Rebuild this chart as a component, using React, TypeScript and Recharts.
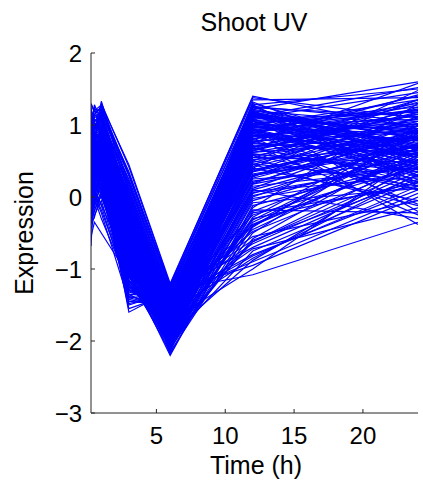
import React from 'react';
import { LineChart, Line, XAxis, YAxis } from 'recharts';

// sampling times (h)
const times = [0.25, 0.5, 1, 3, 6, 12, 24];

const xTicks = [5, 10, 15, 20];
const yTicks = [-3, -2, -1, 0, 1, 2];

// one row per gene, one value per time point
const profiles: number[][] = [
    [1.25, 0.95, 1.30, 0.42, -1.22, 1.40, 0.95],
    [0.85, 1.28, 1.05, 0.25, -1.30, 1.22, 1.60],
    [0.55, 0.72, 1.33, 0.12, -1.38, 1.12, 1.52],
    [1.10, 0.62, 0.92, -0.18, -1.58, 0.92, 1.30],
    [0.32, 0.48, 0.80, -0.52, -1.82, 0.62, 1.02],
    [-0.68, 0.22, 0.60, -0.42, -1.92, 0.38, 0.80],
    [0.92, 1.12, 1.18, -0.08, -1.50, 1.05, 0.30],
    [0.62, 0.30, 0.52, -0.82, -2.02, 0.18, 0.62],
    [0.18, 0.02, 0.30, -1.02, -2.20, -0.12, 0.48],
    [1.02, 0.82, 0.70, -0.62, -1.72, 0.82, -0.10],
    [0.75, 0.95, 1.00, 0.05, -1.45, 1.18, 0.70],
    [0.40, 0.60, 0.85, -0.30, -1.65, 0.70, 1.15],
    [0.95, 0.70, 0.60, -0.95, -1.85, 0.30, 0.90],
    [0.10, 0.35, 0.45, -1.20, -1.95, -0.30, 0.20],
    [0.65, 0.85, 0.95, -0.40, -1.75, 0.55, 1.25],
    [1.15, 1.05, 1.10, -0.25, -1.55, 0.98, 0.55],
    [0.28, 0.15, 0.20, -1.55, -1.35, -0.55, -0.05],
    [0.50, 0.40, 0.35, -1.45, -1.42, -0.80, 0.10],
    [0.70, 0.55, 0.40, -1.60, -1.30, -1.08, -0.35],
    [-0.20, 0.10, 0.25, -1.35, -1.40, -0.65, 0.35],
    [0.85, 0.90, 0.75, -0.70, -2.10, 0.05, 0.75],
    [0.45, 0.65, 0.90, -0.15, -1.60, 0.88, 1.40],
    [1.20, 1.00, 0.85, -0.35, -1.68, 0.72, -0.25],
    [0.05, 0.25, 0.55, -0.88, -1.98, 0.12, 0.95],
    [0.60, 0.80, 1.15, 0.30, -1.28, 1.30, 0.65],
    [0.90, 0.50, 0.65, -0.55, -1.78, 0.45, 1.10],
    [0.35, 0.75, 0.70, -0.75, -1.88, 0.25, 0.40],
    [1.05, 1.15, 1.25, 0.18, -1.35, 1.08, 1.18],
    [0.15, 0.05, 0.40, -1.10, -2.15, -0.40, 0.58],
    [0.78, 0.68, 0.58, -0.48, -1.70, 0.58, 0.85],
    [0.48, 0.88, 0.98, -0.22, -1.62, 0.95, 0.42],
    [0.98, 0.78, 0.88, -0.38, -1.72, 0.68, 1.35],
    [0.22, 0.42, 0.62, -0.68, -1.90, 0.32, 0.72],
    [0.68, 0.58, 0.78, -0.58, -1.80, 0.50, 0.15],
    [1.18, 0.92, 1.08, 0.02, -1.48, 1.15, 0.88],
    [0.38, 0.18, 0.48, -0.92, -2.05, 0.08, 0.28],
    [0.82, 1.02, 0.92, -0.12, -1.52, 1.00, 1.08],
    [0.58, 0.38, 0.28, -1.25, -1.45, -0.48, 0.45],
    [0.08, 0.28, 0.38, -1.38, -1.52, -0.72, -0.15],
    [0.72, 0.92, 1.12, 0.08, -1.42, 1.25, 0.50],
    [0.42, 0.52, 0.68, -0.45, -1.75, 0.65, 1.22],
    [0.95, 0.85, 0.95, -0.28, -1.64, 0.85, 0.62],
    [-0.35, 0.00, 0.15, -1.15, -2.08, -0.20, 0.68],
    [0.25, 0.45, 0.72, -0.60, -1.85, 0.42, 0.98],
    [1.08, 0.98, 1.02, -0.05, -1.46, 1.10, 1.45],
    [0.52, 0.62, 0.82, -0.35, -1.68, 0.78, 0.18],
    [0.88, 0.72, 0.62, -0.78, -1.94, 0.22, 0.52],
    [0.30, 0.55, 0.50, -0.98, -2.00, 0.00, 0.82],
    [0.76, 0.86, 1.06, -0.02, -1.44, 1.02, 0.78],
    [0.12, 0.32, 0.58, -0.72, -1.88, 0.28, 1.12],
    [1.00, 1.08, 0.96, -0.20, -1.56, 0.92, 0.98],
    [0.46, 0.36, 0.44, -1.30, -1.38, -0.90, 0.05],
    [0.64, 0.74, 0.86, -0.42, -1.74, 0.60, 0.35],
    [0.20, 0.08, 0.32, -1.48, -1.36, -0.60, 0.25],
    [0.84, 0.64, 0.74, -0.65, -1.84, 0.35, 1.18],
    [0.56, 0.76, 0.94, -0.25, -1.60, 0.82, 0.92],
    [1.12, 0.88, 0.82, -0.45, -1.66, 0.75, 0.60],
    [0.36, 0.46, 0.64, -0.80, -1.96, 0.15, 0.40],
    [0.70, 0.98, 1.10, 0.15, -1.32, 1.20, 1.00],
    [-0.10, 0.20, 0.42, -0.90, -2.12, -0.05, 0.62],
    [0.94, 0.84, 0.90, -0.32, -1.62, 0.80, 1.28],
    [0.44, 0.66, 0.76, -0.55, -1.78, 0.52, 0.70],
    [0.80, 0.60, 0.68, -0.70, -1.86, 0.40, -0.05],
    [0.26, 0.50, 0.66, -0.62, -1.82, 0.48, 1.05],
    [1.06, 1.10, 1.16, 0.10, -1.40, 1.16, 0.82],
    [0.60, 0.44, 0.54, -1.05, -2.06, -0.02, 0.36],
    [0.74, 0.80, 0.88, -0.36, -1.70, 0.70, 0.95],
    [0.34, 0.24, 0.36, -1.18, -1.48, -0.38, 0.55],
    [0.90, 1.06, 1.14, -0.06, -1.48, 0.96, 1.20],
    [0.16, 0.38, 0.52, -0.84, -1.92, 0.20, 0.88],
    [0.66, 0.56, 0.72, -0.52, -1.76, 0.55, 0.48],
    [1.02, 0.94, 0.98, -0.16, -1.54, 0.90, 0.68],
    [0.50, 0.70, 0.80, -0.46, -1.72, 0.64, 1.32],
    [0.86, 0.66, 0.56, -0.85, -1.98, 0.10, 0.72],
    [0.28, 0.48, 0.74, -0.40, -1.66, 0.74, 0.58],
    [0.80, 0.96, 1.04, -0.10, -1.50, 1.06, 0.40],
    [0.40, 0.30, 0.46, -1.40, -1.34, -0.70, 0.30],
    [0.62, 0.82, 0.84, -0.30, -1.64, 0.76, 1.08],
    [0.98, 0.76, 0.80, -0.50, -1.74, 0.62, 0.80],
    [0.14, 0.26, 0.50, -0.95, -2.02, 0.02, 0.50],
    [0.72, 0.90, 0.96, -0.20, -1.58, 0.86, 0.10],
    [0.54, 0.46, 0.60, -0.66, -1.84, 0.36, 0.92],
    [1.14, 1.02, 1.00, -0.12, -1.52, 1.00, 0.58],
    [0.32, 0.58, 0.62, -0.72, -1.86, 0.30, 0.65],
    [0.88, 0.74, 0.86, -0.40, -1.68, 0.66, 1.15],
    [0.46, 0.34, 0.40, -1.12, -1.44, -0.25, 0.42],
    [0.68, 0.88, 1.00, -0.08, -1.46, 0.98, 0.75],
    [0.24, 0.40, 0.56, -0.78, -1.90, 0.26, 0.85],
    [0.96, 0.86, 0.78, -0.58, -1.80, 0.46, 0.22],
    [0.58, 0.64, 0.82, -0.28, -1.62, 0.84, 1.02],
    [0.38, 0.90, 1.20, 0.35, -1.25, 1.35, 1.38],
    [1.22, 0.80, 0.72, -0.20, -1.58, 1.32, 0.45],
    [0.70, 0.50, 0.46, -0.90, -2.18, -0.15, 1.30],
    [0.20, 0.60, 0.90, -0.10, -1.55, 0.95, -0.38],
    [0.82, 0.70, 0.64, -0.60, -1.80, 1.28, 0.20],
    [0.52, 0.32, 0.42, -1.50, -1.32, -0.95, 0.00],
    [0.92, 1.00, 1.10, 0.00, -1.44, 0.75, 1.58],
    [0.44, 0.54, 0.66, -0.50, -1.76, 1.10, -0.20],
    [0.66, 0.78, 0.94, -0.26, -1.60, 0.40, 1.48],
    [0.10, 0.22, 0.34, -1.08, -2.10, -0.35, 0.75],
    [-0.30, -0.10, 0.05, -1.28, -1.62, -0.45, 0.62],
    [-0.15, 0.05, 0.18, -1.05, -1.70, 1.05, 0.55],
    [0.02, -0.20, 0.10, -0.98, -1.58, 0.85, 1.05],
    [-0.45, -0.25, -0.05, -1.32, -1.48, -0.82, 0.15],
    [0.06, 0.12, 0.28, -0.60, -2.00, 1.15, 0.72],
    [-0.25, -0.05, 0.12, -1.42, -1.56, 0.60, 0.38],
    [0.18, -0.02, -0.30, -1.22, -1.88, 0.90, 1.22],
    [1.28, 1.18, 1.22, 0.30, -1.26, 1.00, 0.95],
    [1.30, 1.20, 1.28, 0.45, -1.20, 1.38, 1.10],
    [-0.05, 0.18, 0.08, -0.85, -2.12, 0.68, 0.25],
    [0.30, 0.10, -0.12, -1.35, -1.66, 1.22, 0.80],
    [-0.55, -0.35, -0.50, -1.10, -1.80, 0.50, 1.35],
    [0.12, -0.15, 0.22, -0.45, -2.14, 1.12, 0.62],
    [0.95, 1.25, 0.80, 0.20, -1.38, 0.88, 0.35],
    [1.15, 0.75, 1.28, 0.05, -1.46, 1.28, 1.50],
    [0.55, 0.15, 0.05, -1.15, -1.74, -0.62, 0.52],
    [-0.12, 0.30, 0.16, -0.70, -1.95, 0.92, 1.12],
    [0.24, -0.08, 0.00, -1.00, -1.82, 1.18, 0.68],
    [0.85, 0.45, 0.28, -0.65, -2.04, 1.02, 1.25],
    [0.42, 0.05, -0.18, -1.25, -1.60, 0.78, 0.90],
    [-0.22, -0.12, 0.34, -0.55, -1.92, 1.08, 0.45],
    [0.78, 1.14, 1.26, 0.32, -1.24, 1.26, 1.05],
    [0.66, 0.26, 0.14, -0.88, -1.94, -0.28, 0.95],
    [0.02, 0.36, 0.58, -0.35, -1.72, 1.20, 0.15],
    [1.05, 0.55, 0.38, -0.75, -1.90, 0.98, 0.78],
    [-0.38, -0.18, 0.02, -1.18, -1.68, 0.18, 1.02],
    [0.36, 0.16, 0.24, -1.30, -1.58, 1.05, 0.62],
    [0.92, 0.62, 0.44, -0.40, -1.62, 0.92, 0.48],
    [0.08, -0.05, 0.46, -0.62, -2.08, 0.45, -0.12],
    [0.48, 0.28, 0.10, -1.08, -1.76, 1.12, 0.90],
    [-0.18, 0.14, 0.26, -0.78, -1.98, 0.80, 1.42],
    [0.72, 0.42, 0.66, -0.22, -1.56, 1.14, 0.30],
    [0.16, 0.46, 0.20, -0.96, -1.84, 0.96, 0.88],
    [1.12, 1.22, 1.20, 0.22, -1.34, 1.18, 0.72],
    [0.26, 0.02, -0.22, -1.45, -1.50, 0.35, 0.85],
    [0.58, 0.88, 0.48, -0.30, -1.82, 1.02, 1.20],
    [-0.08, -0.28, 0.06, -1.20, -1.78, 0.58, 0.10],
    [0.64, 0.34, 0.30, -0.68, -2.16, 0.88, 0.55],
    [0.04, 0.24, 0.44, -0.50, -1.86, 1.00, 1.35],
    [0.88, 0.58, 0.36, -0.92, -1.72, 1.16, 0.65],
    [0.34, 0.64, 0.76, -0.18, -1.54, 1.10, 0.92],
    [-0.28, 0.08, -0.10, -1.00, -2.02, 0.70, 0.82],
    [0.76, 0.52, 0.70, -0.48, -1.70, 1.24, 1.12],
    [0.22, 0.12, 0.30, -0.82, -1.96, 0.90, 0.38],
    [1.00, 0.70, 0.54, -0.36, -1.64, 1.06, 1.00],
    [0.46, 0.20, 0.18, -1.22, -1.64, 0.30, 0.70],
    [-0.02, 0.40, 0.60, -0.42, -1.88, 1.14, 0.58],
    [0.60, 0.24, 0.40, -0.76, -2.06, 0.64, 1.18],
    [0.30, 0.70, 0.92, -0.05, -1.50, 1.20, 0.82],
    [0.84, 0.48, 0.22, -1.02, -1.86, 0.94, 0.28],
    [0.50, 0.26, 0.32, -1.10, -1.90, -0.88, 0.48],
    [0.14, 0.44, 0.50, -0.74, -2.04, -0.50, 0.92],
    [0.78, 0.56, 0.60, -0.60, -1.98, -0.75, 0.22],
    [-0.06, 0.16, 0.36, -1.26, -1.72, -1.00, 0.60],
    [0.62, 0.48, 0.52, -0.86, -2.10, -0.42, 1.00],
    [0.32, 0.14, 0.26, -1.16, -1.82, -0.18, -0.22],
    [0.96, 0.80, 0.70, -0.54, -1.92, -0.62, 0.40],
    [0.20, 0.34, 0.48, -0.96, -2.08, -0.08, 0.12],
    [0.70, 0.62, 0.68, -0.80, -1.96, -0.32, 0.80],
    [0.40, 0.22, 0.30, -1.36, -1.60, -0.85, 0.32],
    [0.86, 0.72, 0.76, -0.44, -1.84, 0.10, -0.30],
    [0.06, 0.30, 0.44, -1.06, -2.00, -0.58, 0.70],
    [0.54, 0.40, 0.50, -0.90, -1.94, 0.06, 0.45],
    [0.26, 0.18, 0.22, -1.40, -1.54, -0.40, 0.88],
    [0.74, 0.66, 0.72, -0.64, -2.12, -0.22, 0.15],
];

const FONT = '"Liberation Sans", Arial, Helvetica, sans-serif';
const AXIS_COLOR = '#262626';

// build the table recharts wants: one row per time point, a key per gene
const data = times.map((t, i) => {
    const row: Record<string, number> = { t };
    profiles.forEach((p, j) => {
        row['g' + j] = p[i];
    });
    return row;
});

// MATLAB style ticks: drawn inwards, label outside
const XTick = (props: any) => {
    const { x, y, payload } = props;
    return (
        <g>
            <line x1={x} x2={x} y1={y} y2={y - 4} stroke={AXIS_COLOR} strokeWidth={1} />
            <text x={x} y={y + 31} textAnchor="middle" fontSize={24} fontFamily={FONT} fill="#000">
                {payload.value}
            </text>
        </g>
    );
};

const YTick = (props: any) => {
    const { x, y, payload } = props;
    const label = payload.value < 0 ? '\u2212' + Math.abs(payload.value) : String(payload.value);
    return (
        <g>
            <line x1={x} x2={x + 4} y1={y} y2={y} stroke={AXIS_COLOR} strokeWidth={1} />
            <text x={x - 9} y={y} dy="0.36em" textAnchor="end" fontSize={24} fontFamily={FONT} fill="#000">
                {label}
            </text>
        </g>
    );
};

export default function App() {
    return (
        <div style={{ position: 'absolute', left: 0, top: 0, width: 423, height: 487, background: '#fff' }}>
            <LineChart
                width={423}
                height={487}
                data={data}
                margin={{ top: 53, right: 5, bottom: 0, left: 0 }}
            >
                <XAxis
                    dataKey="t"
                    type="number"
                    domain={[0.25, 24]}
                    ticks={xTicks}
                    allowDataOverflow
                    height={74}
                    tickSize={0}
                    tickMargin={0}
                    tickLine={false}
                    axisLine={{ stroke: AXIS_COLOR, strokeWidth: 1 }}
                    tick={<XTick />}
                />
                <YAxis
                    type="number"
                    domain={[-3, 2]}
                    ticks={yTicks}
                    allowDataOverflow
                    width={91}
                    tickSize={0}
                    tickMargin={0}
                    tickLine={false}
                    axisLine={{ stroke: AXIS_COLOR, strokeWidth: 1 }}
                    tick={<YTick />}
                />
                {profiles.map((_, j) => (
                    <Line
                        key={j}
                        type="linear"
                        dataKey={'g' + j}
                        stroke="#0000ff"
                        strokeWidth={1.2}
                        dot={false}
                        activeDot={false}
                        isAnimationActive={false}
                    />
                ))}
            </LineChart>
            <svg
                width={423}
                height={487}
                style={{ position: 'absolute', left: 0, top: 0, pointerEvents: 'none' }}
            >
                <text x={254} y={31} textAnchor="middle" fontSize={25} fontFamily={FONT} fill="#000">
                    Shoot UV
                </text>
                <text x={256} y={474} textAnchor="middle" fontSize={25} fontFamily={FONT} fill="#000">
                    Time (h)
                </text>
                <text
                    x={33}
                    y={233}
                    textAnchor="middle"
                    fontSize={25}
                    fontFamily={FONT}
                    fill="#000"
                    transform="rotate(-90 33 233)"
                >
                    Expression
                </text>
            </svg>
        </div>
    );
}
